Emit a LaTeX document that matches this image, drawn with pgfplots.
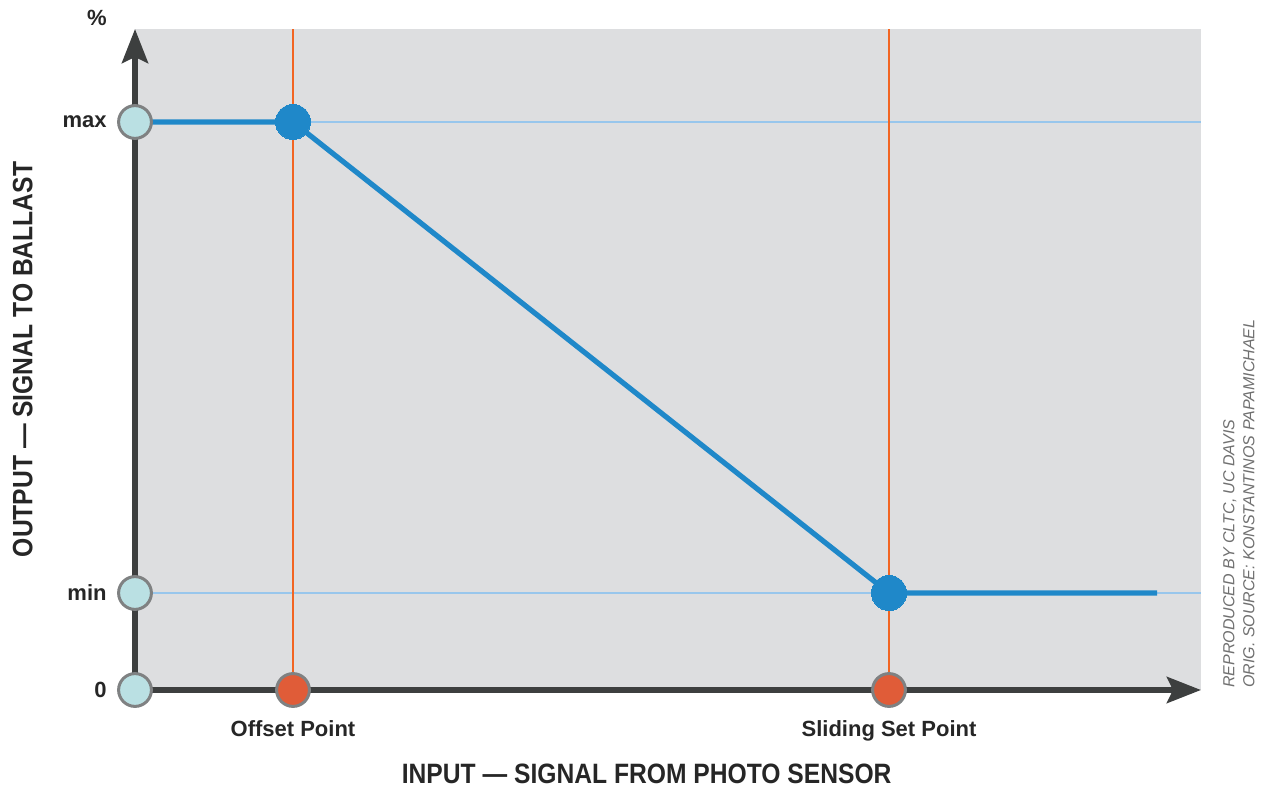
\documentclass[border=0pt]{standalone}
\usepackage{fontspec}
\setmainfont{Liberation Sans}
\newfontfamily\condfont[FakeStretch=0.88]{Liberation Sans}
\usepackage{pgfplots}
\pgfplotsset{compat=1.18}
\usetikzlibrary{arrows.meta,calc}

\definecolor{bggray}{HTML}{DDDEE0}
\definecolor{axisdark}{HTML}{3D3F3F}
\definecolor{lineblue}{HTML}{1F88C9}
\definecolor{gridblue}{HTML}{98C6EC}
\definecolor{vorange}{HTML}{F26522}
\definecolor{dotorange}{HTML}{E05C38}
\definecolor{dotcyan}{HTML}{BAE0E3}
\definecolor{ringgray}{HTML}{7F8182}
\definecolor{creditgray}{HTML}{707070}

\begin{document}
\begin{tikzpicture}
\begin{axis}[
  scale only axis,
  width=533pt, height=330.5pt,
  xmin=0, xmax=1066, ymin=0, ymax=661,
  clip=false,
  axis background/.style={fill=bggray},
  axis lines=left,
  axis line style={line width=3pt, draw=axisdark, -{Stealth[length=17pt,width=13pt,inset=3pt]}},
  major tick length=0pt,
  xtick={158,754},
  xticklabels={Offset Point, Sliding Set Point},
  ytick={0,97,568},
  yticklabels={0, min, max},
  tick label style={font=\fontsize{11}{13}\selectfont\bfseries, text=black!85},
  xticklabel style={anchor=north, inner sep=0pt, yshift=-15pt},
  yticklabel style={anchor=east, inner sep=0pt, xshift=-14pt},
  xlabel={INPUT — SIGNAL FROM PHOTO SENSOR},
  ylabel={OUTPUT — SIGNAL TO BALLAST},
  label style={font=\condfont\fontsize{14}{16}\selectfont\bfseries, text=black!85},
  xlabel style={at={(rel axis cs:0.48,0)}, anchor=north, inner sep=0pt, yshift=-37pt},
  ylabel style={at={($(rel axis cs:0,0.5)+(-51pt,0)$)}, anchor=south, inner sep=0pt},
]
% reference levels
\addplot[gridblue, line width=0.6pt] coordinates {(0,568) (1066,568)};
\addplot[gridblue, line width=0.6pt] coordinates {(0,97) (1066,97)};
% set points
\addplot[vorange, line width=1.2pt] coordinates {(158,0) (158,661)};
\addplot[vorange, line width=1.2pt] coordinates {(754,0) (754,661)};
% response curve
\addplot[lineblue, line width=2.6pt] coordinates {(0,568) (158,568) (754,97) (1022,97)};
\addplot[only marks, mark=*, mark size=8.75pt, mark options={fill=lineblue, draw=lineblue, line width=0pt}]
  coordinates {(158,568) (754,97)};
% dots on the axes
\addplot[only marks, mark=*, mark size=8.2pt, mark options={fill=dotcyan, draw=ringgray, line width=1.5pt}]
  coordinates {(0,0) (0,97) (0,568)};
\addplot[only marks, mark=*, mark size=8.2pt, mark options={fill=dotorange, draw=ringgray, line width=1.5pt}]
  coordinates {(158,0) (754,0)};

\node[anchor=east, inner sep=0pt, font=\fontsize{11}{13}\selectfont\bfseries, text=black!85] at (axis cs:-28,672) {\%};
\node[rotate=90, anchor=south west, align=left, inner sep=0pt, text=creditgray,
      font=\fontsize{8}{10}\selectfont\itshape] at (axis cs:1120,2)
  {REPRODUCED BY CLTC, UC DAVIS\\ORIG. SOURCE: KONSTANTINOS PAPAMICHAEL};
\path (axis cs:-135,-98) rectangle (axis cs:1130,690);
\end{axis}
\end{tikzpicture}
\end{document}
